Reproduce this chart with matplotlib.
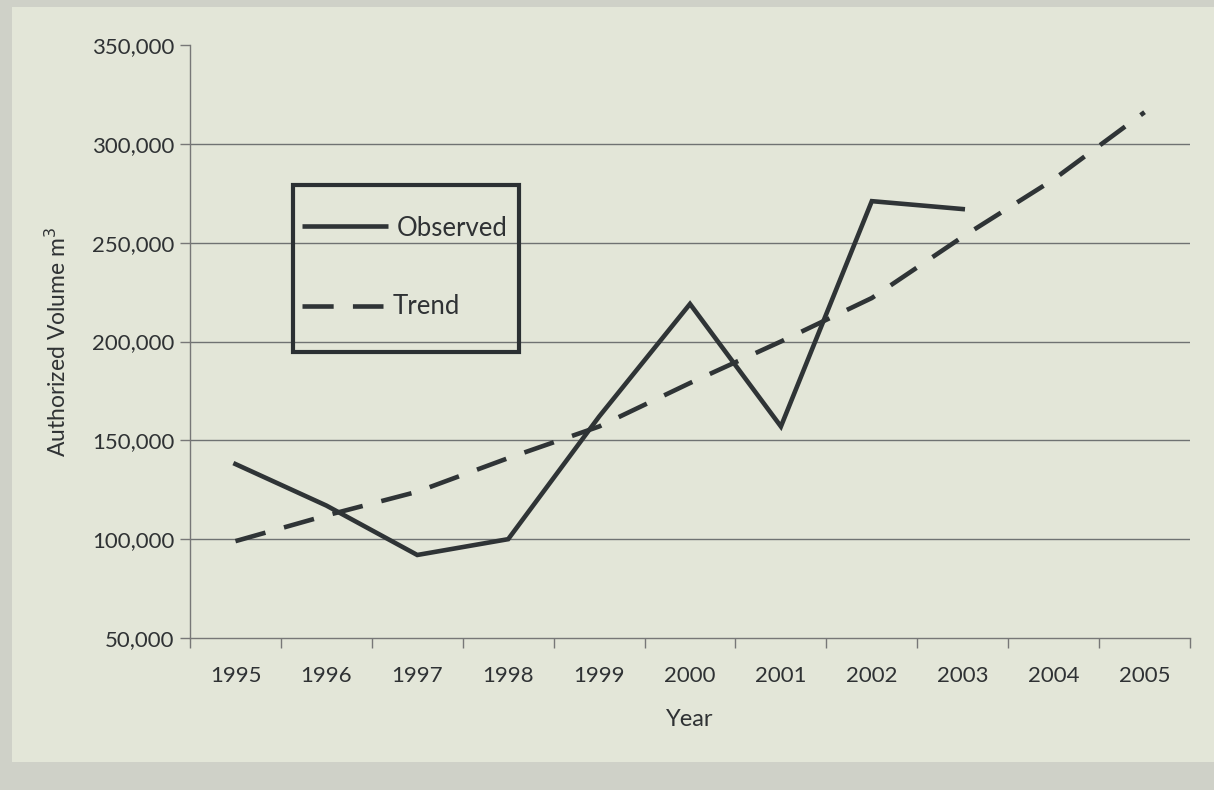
import matplotlib
matplotlib.use("Agg")
import matplotlib.pyplot as plt
from matplotlib.patches import Rectangle
from matplotlib.lines import Line2D
from matplotlib.ticker import FuncFormatter, FixedLocator

years = ["1995", "1996", "1997", "1998", "1999", "2000", "2001", "2002", "2003", "2004", "2005"]
observed = [138000, 117000, 92000, 100000, 162000, 219000, 157000, 271000, 267000]
trend = [99000, 112000, 124000, 141000, 157000, 179000, 200000, 222000, 253000, 282000, 316000]
yticks = [50000, 100000, 150000, 200000, 250000, 300000, 350000]
series_names = ["Observed", "Trend"]

plt.rcParams['font.family'] = ['Lato', 'DejaVu Sans']
text_color = "#2f3234"
line_color = "#2f3436"
paper = "#e3e6d8"
LW = 3.3
DASH = (6.8, 4.2)

fig = plt.figure(figsize=(12.14, 7.90), dpi=100)
fig.patch.set_facecolor("#cfd1c8")
fig.add_artist(Rectangle((12 / 1214, 28 / 790), 1 - 12 / 1214, 1 - 28 / 790 - 7 / 790,
                         transform=fig.transFigure, facecolor=paper, edgecolor="none", zorder=0))

ax = fig.add_axes([190 / 1214, 152 / 790, 1000 / 1214, 593 / 790])
ax.set_facecolor("none")

x_obs = list(range(len(observed)))
x_tr = list(range(len(trend)))
ax.plot(x_obs, observed, color=line_color, lw=LW, solid_joinstyle="miter", zorder=3)
ax.plot(x_tr, trend, color=line_color, lw=LW, dashes=DASH, zorder=3)

ax.set_xlim(-0.5, len(years) - 0.5)
ax.set_ylim(50000, 350000)

ax.xaxis.set_major_locator(FixedLocator([i - 0.5 for i in range(len(years) + 1)]))
ax.xaxis.set_minor_locator(FixedLocator(list(range(len(years)))))
ax.set_xticklabels([], minor=False)
ax.set_xticklabels(years, minor=True)
ax.tick_params(axis="x", which="major", length=7, width=1, color="#777777", direction="out")
ax.tick_params(axis="x", which="minor", length=0, pad=20, labelsize=16, labelcolor=text_color)

ax.set_yticks(yticks)
ax.yaxis.set_major_formatter(FuncFormatter(lambda v, p: f"{int(v):,}"))
ax.tick_params(axis="y", length=7, width=1, color="#777777", pad=4, labelsize=16, labelcolor=text_color)

for v in yticks[1:-1]:
    ax.axhline(v, color="#6f7272", lw=1.0, zorder=1)

for s in ["top", "right"]:
    ax.spines[s].set_visible(False)
for s in ["left", "bottom"]:
    ax.spines[s].set_color("#777777")
    ax.spines[s].set_linewidth(1.0)

ax.set_xlabel("Year", fontsize=17, color=text_color, labelpad=17)
ax.set_ylabel("Authorized Volume m$^3$", fontsize=16.5, color=text_color, labelpad=16)

# legend box drawn in axes coordinates
def axx(px):
    return (px - 190) / 1000

def axy(py):
    return (638 - py) / 593

ax.add_patch(Rectangle((axx(293), axy(352)), axx(519) - axx(293), axy(185) - axy(352),
                       transform=ax.transAxes, facecolor="none", edgecolor="#2b3033",
                       lw=3.0, zorder=4, clip_on=False))
ax.add_line(Line2D([axx(302), axx(388)], [axy(226), axy(226)], transform=ax.transAxes,
                   color=line_color, lw=LW, solid_capstyle="butt", zorder=5))
ax.add_line(Line2D([axx(302), axx(383)], [axy(306), axy(306)], transform=ax.transAxes,
                   color=line_color, lw=LW, dashes=DASH, dash_capstyle="butt", zorder=5))
ax.text(axx(397), axy(228), series_names[0], transform=ax.transAxes, fontsize=18.5,
        color=text_color, va="center", ha="left", zorder=5)
ax.text(axx(393), axy(306), series_names[1], transform=ax.transAxes, fontsize=18.5,
        color=text_color, va="center", ha="left", zorder=5)

fig.savefig("out.png", dpi=100, facecolor=fig.get_facecolor())
